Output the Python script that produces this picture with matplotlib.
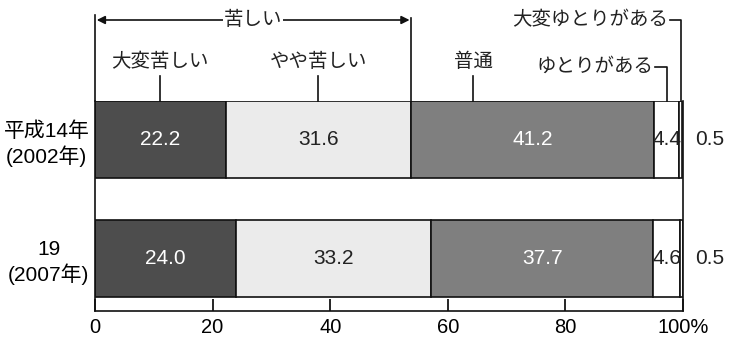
import numpy as np
import matplotlib
matplotlib.use("Agg")
from matplotlib import pyplot as plt
from matplotlib import transforms

plt.rcParams['font.family'] = ['Liberation Sans', 'Noto Sans CJK JP', 'DejaVu Sans']

# data
years = ["平成14年\n(2002年)", "19\n(2007年)"]
categories = ["大変苦しい", "やや苦しい", "普通", "ゆとりがある", "大変ゆとりがある"]
v2002 = [22.2, 31.6, 41.2, 4.4, 0.5]
v2007 = [24.0, 33.2, 37.7, 4.6, 0.5]
xticks = [0, 20, 40, 60, 80, 100]
xtick_labels = ["0", "20", "40", "60", "80", "100%"]

colors = ["#4d4d4d", "#ebebeb", "#7f7f7f", "#ffffff", "#ffffff"]
text_colors = ["white", "#222222", "white", "#222222", "#222222"]

W, H = 731, 348
fig = plt.figure(figsize=(W / 100, H / 100), dpi=100)
ax = fig.add_axes([95 / W, 1 - 311 / H, 588 / W, 210 / H])

rows = [v2007, v2002]
ypos = np.arange(len(rows))
bh = 0.65
for y, vals in zip(ypos, rows):
    left = 0
    for i, v in enumerate(vals):
        ax.barh(y, v, left=left, height=bh, color=colors[i],
                edgecolor="#111111", linewidth=1.2)
        cx = left + v / 2
        if i == 4:
            cx = 104.6  # last one sits outside the bar
        ax.text(cx, y, f"{v:.1f}", ha="center", va="center", fontsize=15,
                color=text_colors[i], clip_on=False)
        left += v

ax.set_xlim(0, 100)
ax.set_ylim(-0.444, 1.325)
ax.set_yticks(ypos)
ax.set_yticklabels([years[1], years[0]], fontsize=15, linespacing=1.25,
                   multialignment="center")
ax.tick_params(axis="y", length=0, pad=4)
ax.set_xticks(xticks)
ax.set_xticklabels(xtick_labels, fontsize=14.5)
ax.tick_params(axis="x", direction="in", length=8.6, width=1.2, pad=5)
ax.spines["top"].set_visible(False)
for s in ["left", "right", "bottom"]:
    ax.spines[s].set_linewidth(1.2)
    ax.spines[s].set_color("#111111")

# annotations above the bars, x in data, y in figure pixels
tr = transforms.blended_transform_factory(ax.transData, fig.transFigure)


def py(p):
    return 1 - p / H


kurushii = v2002[0] + v2002[1]
line_kw = dict(color="#111111", lw=1.2, transform=tr, clip_on=False)
ax.plot([0, 0], [py(15), py(101)], **line_kw)
ax.plot([kurushii, kurushii], [py(18), py(101)], **line_kw)
ax.annotate("", xy=(0.3, py(20)), xytext=(kurushii - 0.3, py(20)),
            xycoords=tr, textcoords=tr,
            arrowprops=dict(arrowstyle="<|-|>", color="#111111", lw=1.2,
                            shrinkA=0, shrinkB=0, mutation_scale=12))
ax.text(kurushii / 2, py(20), "苦しい", transform=tr, ha="center", va="center",
        fontsize=14, color="#222222",
        bbox=dict(boxstyle="square,pad=0.05", fc="white", ec="none"))

left2002 = np.cumsum([0] + v2002[:-1])
centers = left2002 + np.array(v2002) / 2
lead_x = [centers[0], centers[1], left2002[2] + 10.5]
for name, lx in zip(categories[:3], lead_x):
    ax.text(lx, py(62), name, transform=tr, ha="center", va="center",
            fontsize=14, color="#222222")
    ax.plot([lx, lx], [py(76), py(101)], **line_kw)

# hooked labels on the right
hooks = [(categories[3], centers[3], 67, 655), (categories[4], centers[4], 20, 670)]
for name, hx, ty, tx in hooks:
    x0 = (tx - 95) / 5.88
    ax.text(x0 - 0.3, py(ty), name, transform=tr, ha="right", va="center",
            fontsize=14, color="#222222")
    ax.plot([x0, hx, hx], [py(ty), py(ty), py(101)], **line_kw)

fig.savefig("out.png", dpi=100)
